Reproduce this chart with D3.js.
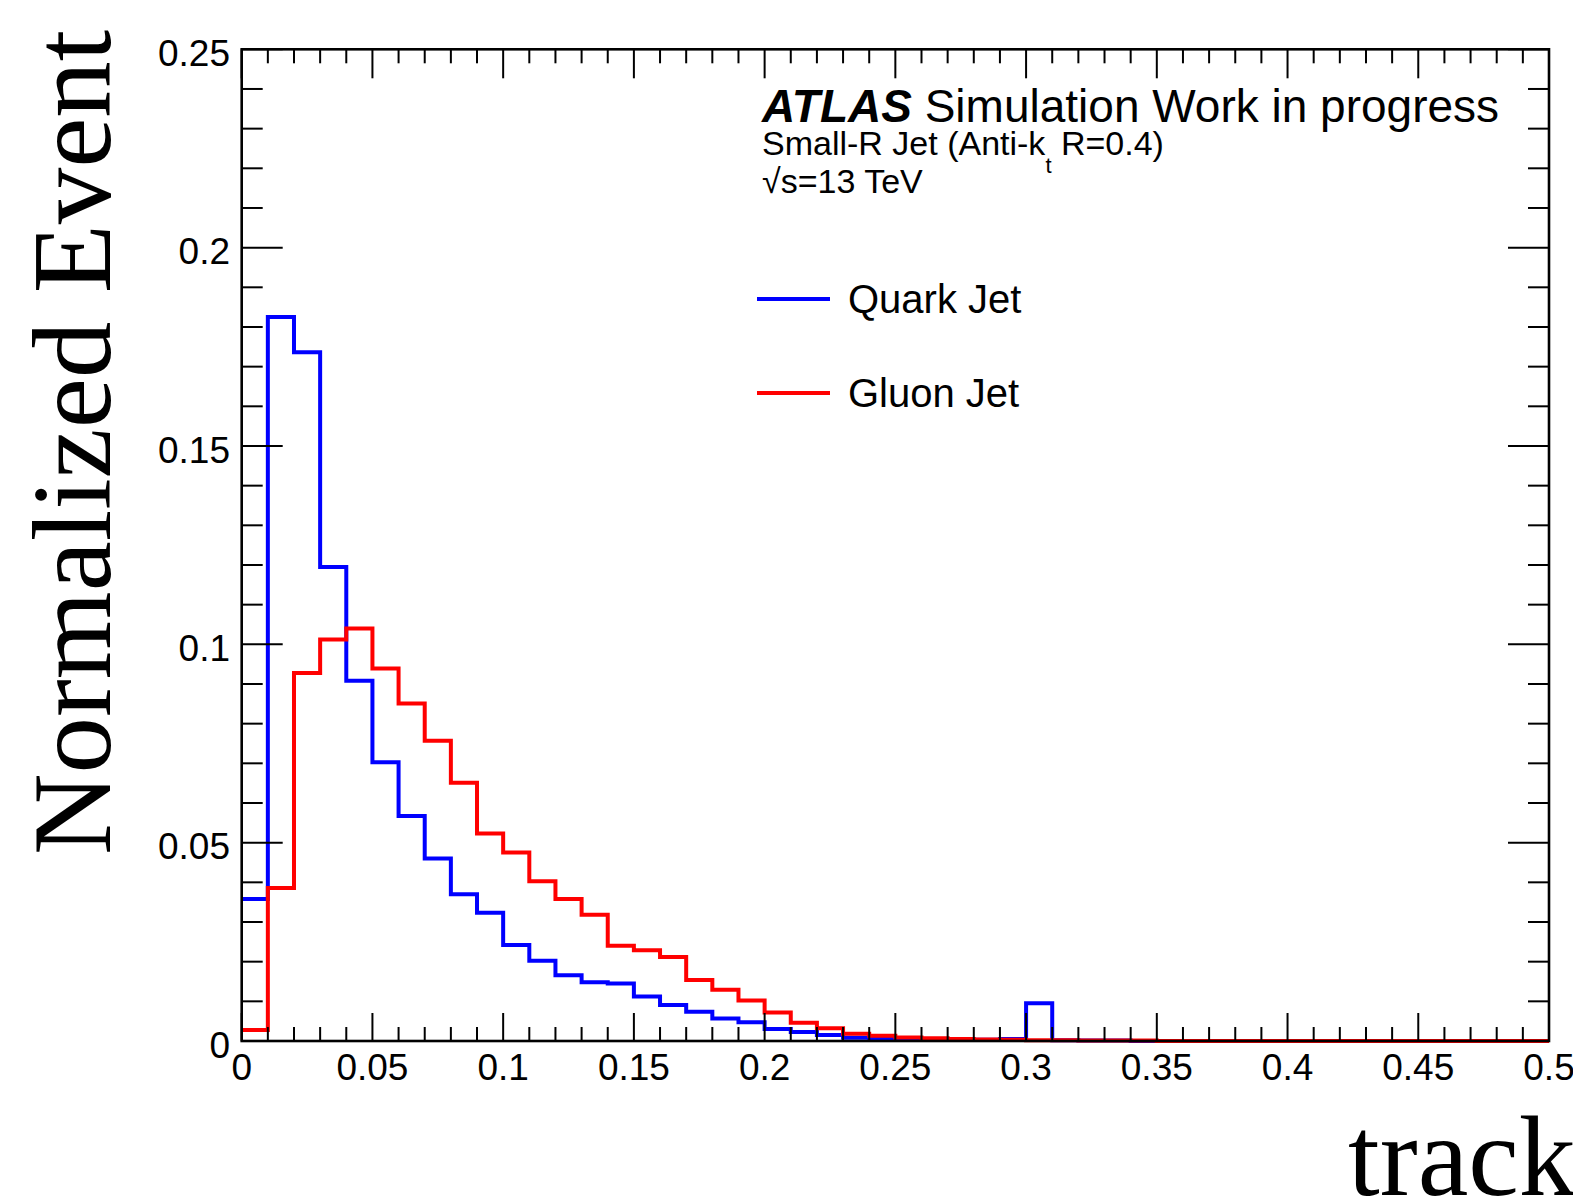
<!DOCTYPE html>
<html><head><meta charset="utf-8">
<script src="https://cdn.jsdelivr.net/npm/d3@7"></script>
<style>html,body{margin:0;padding:0;background:#fff;overflow:hidden}</style>
</head><body>
<script>
const binEdgesStart = 0, binWidth = 0.01;
const quarkJet = [0.0358,0.1825,0.1736,0.1195,0.0908,0.0703,0.0567,0.0460,0.0370,0.0323,
0.0242,0.0202,0.0166,0.0148,0.0145,0.0112,0.0091,0.0074,0.0057,0.0047,
0.0030,0.0023,0.0015,0.0008,0.0005,0.0004,0.0003,0.0003,0.0003,0.0005,
0.0095,0.0002,0.0001,0.0001,0,0,0,0,0,0,0,0,0,0,0,0,0,0,0,0];
const gluonJet = [0.0028,0.0386,0.0928,0.1012,0.1040,0.0939,0.0851,0.0757,0.0651,0.0523,
0.0475,0.0403,0.0358,0.0318,0.0240,0.0229,0.0212,0.0154,0.0129,0.0102,
0.0072,0.0046,0.0032,0.0018,0.0013,0.0009,0.0007,0.0005,0.0004,0.0003,
0.0002,0.0002,0.0001,0.0001,0.0001,0,0,0,0,0,0,0,0,0,0,0,0,0,0,0];
const xTickLabels = [0,0.05,0.1,0.15,0.2,0.25,0.3,0.35,0.4,0.45,0.5];
const yTickLabels = [0,0.05,0.1,0.15,0.2,0.25];
const seriesNames = ["Quark Jet","Gluon Jet"];
const seriesColors = ["#0000ff","#ff0000"];

const W=1573,H=1198;
const L=241.7,R=1549,T=49.3,B=1041;
const svg=d3.select("body").append("svg").attr("width",W).attr("height",H);
const x=d3.scaleLinear().domain([0,0.5]).range([L,R]);
const y=d3.scaleLinear().domain([0,0.25]).range([B,T]);
const sans="'Liberation Sans', Arial, Helvetica, sans-serif";
const serif="'Liberation Serif', 'Times New Roman', serif";

// histograms
function stepPath(vals){
  const p=d3.path();
  vals.forEach((v,i)=>{
    const x0=x(binEdgesStart+i*binWidth), x1=x(binEdgesStart+(i+1)*binWidth);
    if(i===0) p.moveTo(x0,y(v)); else p.lineTo(x0,y(v));
    p.lineTo(x1,y(v));
  });
  return p.toString();
}
[quarkJet,gluonJet].forEach((vals,k)=>{
  svg.append("path").attr("d",stepPath(vals)).attr("fill","none")
    .attr("stroke",seriesColors[k]).attr("stroke-width",4).attr("stroke-linejoin","miter");
});

// frame
svg.append("rect").attr("x",L).attr("y",T).attr("width",R-L).attr("height",B-T)
  .attr("fill","none").attr("stroke","#000").attr("stroke-width",2.6);

// ticks
const g=svg.append("g").attr("stroke","#000").attr("stroke-width",2);
const xMinor=d3.range(0,51).map(i=>i*0.01);
xMinor.forEach((v,i)=>{
  const major=i%5===0, xx=x(v);
  const lb=major?28:14, lt=major?29:14;
  g.append("line").attr("x1",xx).attr("x2",xx).attr("y1",B).attr("y2",B-lb);
  g.append("line").attr("x1",xx).attr("x2",xx).attr("y1",T).attr("y2",T+lt);
});
const yMinor=d3.range(0,26).map(i=>i*0.01);
yMinor.forEach((v,i)=>{
  const major=i%5===0, yy=y(v);
  const len=major?41:21;
  g.append("line").attr("x1",L).attr("x2",L+len).attr("y1",yy).attr("y2",yy);
  g.append("line").attr("x1",R).attr("x2",R-len).attr("y1",yy).attr("y2",yy);
});

// tick labels
const fmt=d=>d===0?"0":String(d);
svg.append("g").selectAll("text").data(xTickLabels).join("text")
  .attr("x",d=>x(d)).attr("y",1080).attr("text-anchor","middle")
  .attr("font-family",sans).attr("font-size",37).text(fmt);
svg.append("g").selectAll("text").data(yTickLabels).join("text")
  .attr("x",230).attr("y",d=>y(d)).attr("dy","0.45em").attr("text-anchor","end")
  .attr("font-family",sans).attr("font-size",37).text(fmt);

// axis titles
svg.append("text").attr("transform","translate(110,855) rotate(-90)")
  .attr("font-family",serif).attr("font-size",113).text("Normalized Event");
svg.append("text").attr("x",1348).attr("y",1195)
  .attr("font-family",serif).attr("font-size",114).text("track");

// ATLAS label
const t1=svg.append("text").attr("x",762).attr("y",122).attr("font-family",sans).attr("font-size",46);
t1.append("tspan").attr("font-weight","bold").attr("font-style","italic").text("ATLAS");
t1.append("tspan").text(" Simulation Work in progress");
const t2=svg.append("text").attr("x",762).attr("y",155).attr("font-family",sans).attr("font-size",34);
t2.append("tspan").text("Small-R Jet (Anti-k");
t2.append("tspan").attr("font-size",22).attr("dy",18).text("t");
t2.append("tspan").attr("dy",-18).text(" R=0.4)");
svg.append("text").attr("x",762).attr("y",193).attr("font-family",sans).attr("font-size",34).text("√s=13 TeV");

// legend
const legY=[299,393];
seriesNames.forEach((n,k)=>{
  svg.append("line").attr("x1",757).attr("x2",830).attr("y1",legY[k]).attr("y2",legY[k])
    .attr("stroke",seriesColors[k]).attr("stroke-width",4);
  svg.append("text").attr("x",848).attr("y",legY[k]).attr("dy","0.36em")
    .attr("font-family",sans).attr("font-size",40).text(n);
});
</script>
</body></html>
